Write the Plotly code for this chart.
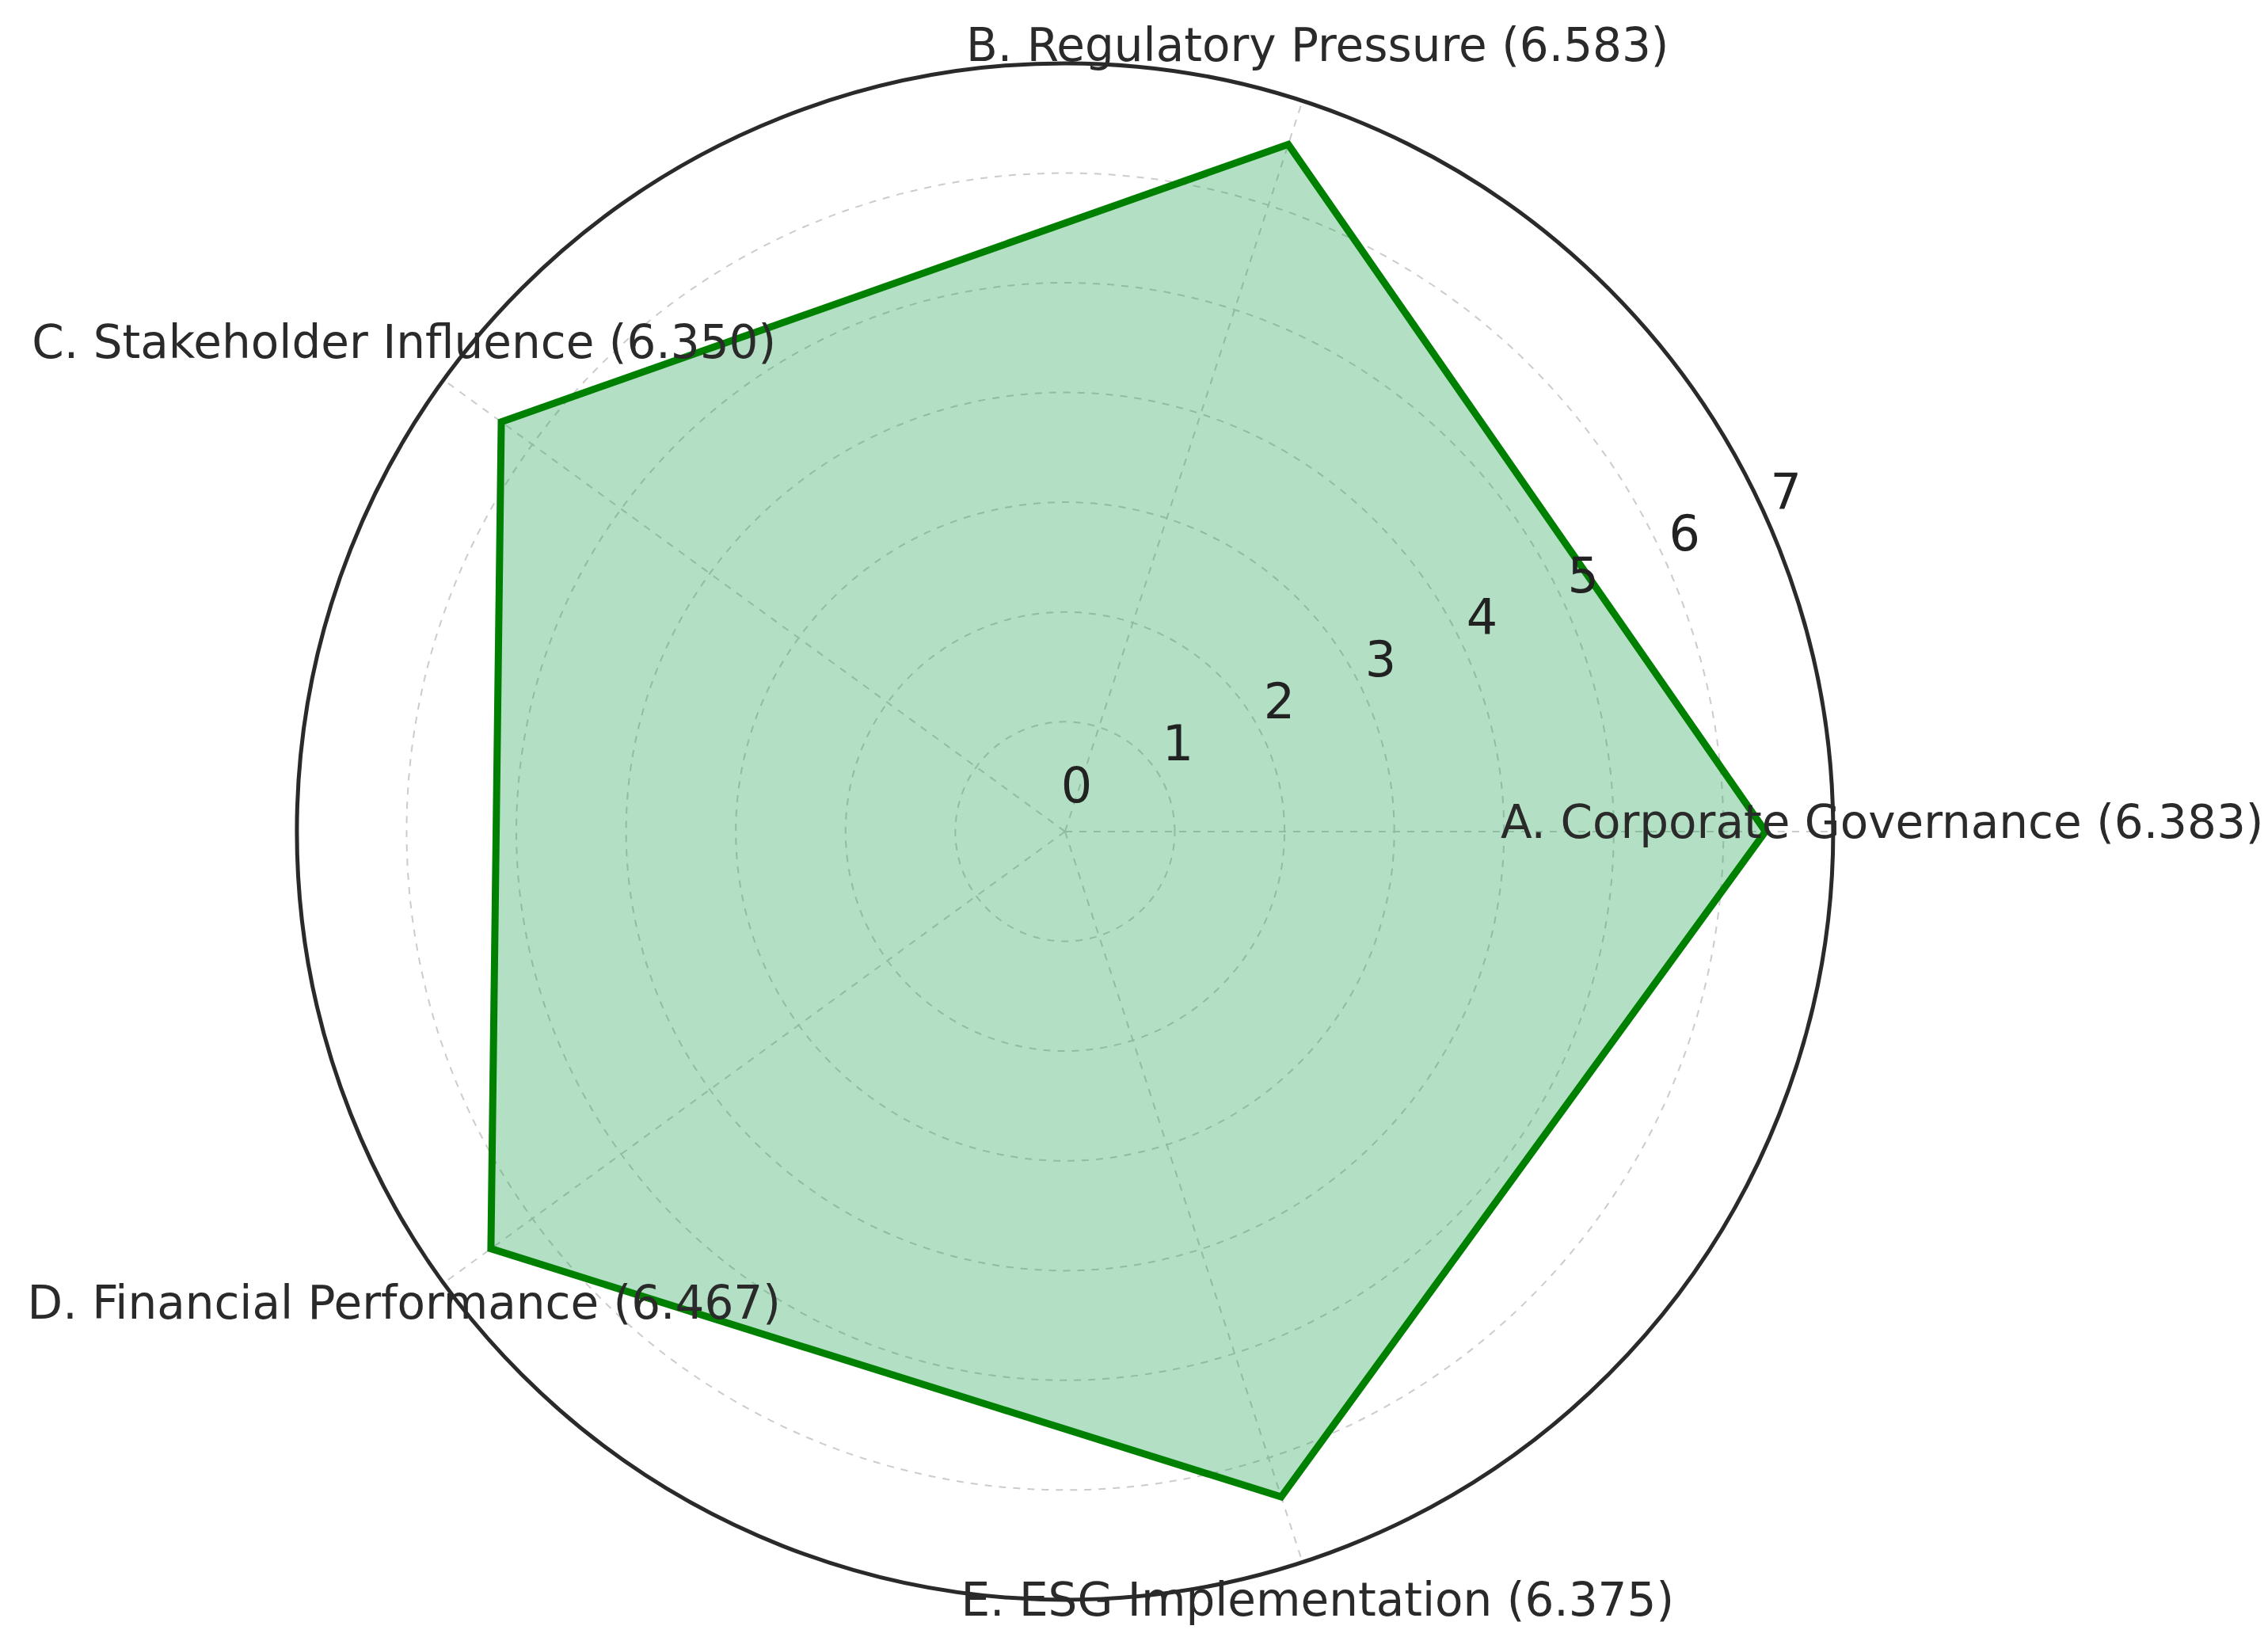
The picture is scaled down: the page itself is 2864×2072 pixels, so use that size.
import plotly.graph_objects as go

# Radar chart of the five dimension scores
categories = ["A. Corporate Governance", "B. Regulatory Pressure", "C. Stakeholder Influence",
              "D. Financial Performance", "E. ESG Implementation"]
scores = [6.383, 6.583, 6.350, 6.467, 6.375]
radial_ticks = [0, 1, 2, 3, 4, 5, 6, 7]
label_radius = 7.45
tick_label_shift = 0.4  # matplotlib puts the radial numbers a bit further out

labels = [f"{c} ({v:.3f})" for c, v in zip(categories, scores)]

fig = go.Figure()

# filled polygon (close the loop)
fig.add_trace(go.Scatterpolar(
    r=scores + scores[:1],
    theta=categories + categories[:1],
    mode="lines",
    fill="toself",
    fillcolor="rgba(20,160,70,0.32)",
    line=dict(color="#008000", width=9),
    hoverinfo="skip",
    showlegend=False,
    subplot="polar",
))

# category labels, centred just outside the outer circle like matplotlib.
# drawn on a second, invisible polar subplot whose range reaches a bit further
fig.add_trace(go.Scatterpolar(
    r=[label_radius] * len(categories),
    theta=categories,
    mode="text",
    text=labels,
    textposition="middle center",
    textfont=dict(family="DejaVu Sans", size=58, color="#2a2a2a"),
    cliponaxis=False,
    hoverinfo="skip",
    showlegend=False,
    subplot="polar2",
))

grid = dict(showgrid=True, gridcolor="#cccccc", gridwidth=2, griddash="dash")

fig.update_layout(
    width=2864, height=2072,
    margin=dict(l=0, r=0, t=0, b=0),
    paper_bgcolor="white",
    font=dict(family="DejaVu Sans", color="#222222"),
    polar=dict(
        domain=dict(x=[0.1281, 0.8055], y=[0.0290, 0.9653]),
        bgcolor="rgba(0,0,0,0)",
        angularaxis=dict(
            type="category",
            categoryarray=categories,
            rotation=0,
            direction="counterclockwise",
            showticklabels=False,
            ticks="",
            showline=True,
            linecolor="#2a2a2a",
            linewidth=5,
            **grid,
        ),
        radialaxis=dict(
            range=[0, 7],
            tickvals=radial_ticks,
            angle=22.5,
            showticklabels=False,
            ticks="",
            showline=False,
            **grid,
        ),
    ),
    polar2=dict(
        domain=dict(x=[0.1051, 0.8285], y=[0.0, 1.0]),
        bgcolor="rgba(0,0,0,0)",
        angularaxis=dict(
            type="category",
            categoryarray=categories,
            rotation=0,
            direction="counterclockwise",
            visible=False,
        ),
        radialaxis=dict(
            range=[0, 7.48],
            tickvals=[t + tick_label_shift for t in radial_ticks],
            ticktext=[str(t) for t in radial_ticks],
            angle=22.5,
            tickangle=22.5,
            side="counterclockwise",
            ticks="",
            showline=False,
            showgrid=False,
            tickfont=dict(family="DejaVu Sans", size=62, color="#222222"),
        ),
    ),
)

fig.write_html("out.html")
